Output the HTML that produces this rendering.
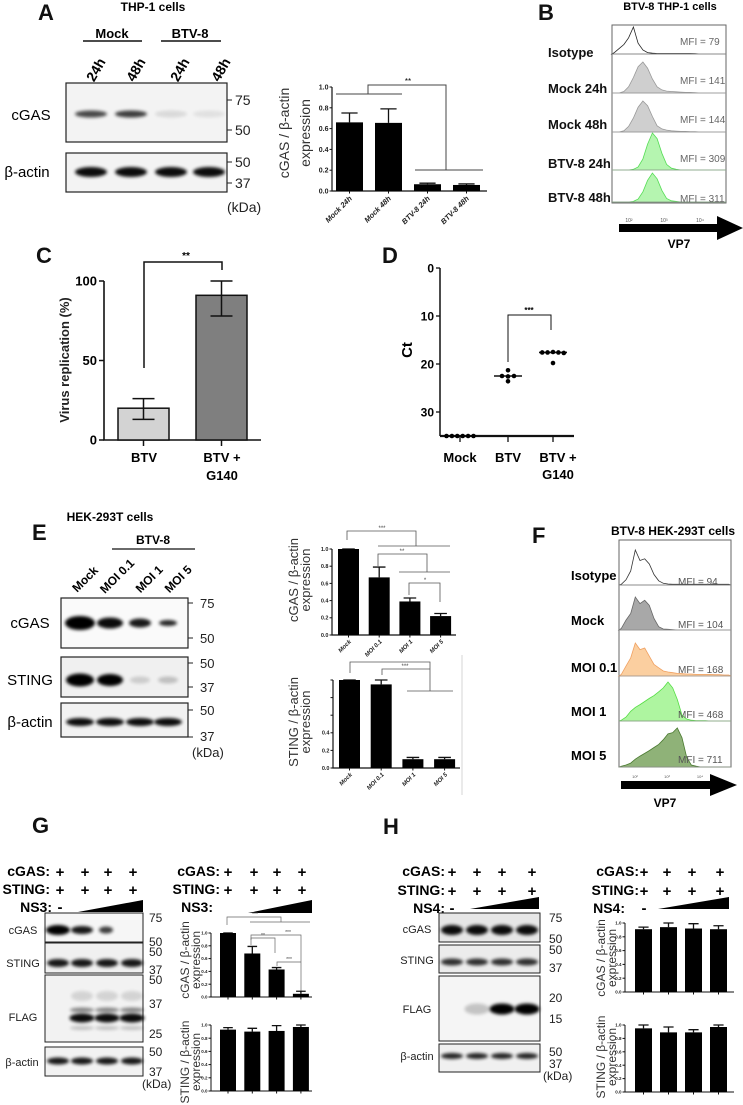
<!DOCTYPE html>
<html><head><meta charset="utf-8"><style>
html,body{margin:0;padding:0;background:#fff;}
svg{display:block;font-family:"Liberation Sans",sans-serif;}
</style></head><body>
<svg id="fig" width="743" height="1105" viewBox="0 0 743 1105" xmlns="http://www.w3.org/2000/svg">
<defs>
<filter id="blur" x="-30%" y="-80%" width="160%" height="260%"><feGaussianBlur stdDeviation="1.6"/></filter>
</defs>
<rect width="743" height="1105" fill="#fff"/>
<g font-weight="bold" font-size="22" fill="#111">
<text x="38" y="20">A</text>
<text x="538" y="20">B</text>
<text x="36" y="263">C</text>
<text x="382" y="263">D</text>
<text x="32" y="540">E</text>
<text x="532" y="543">F</text>
<text x="32" y="833">G</text>
<text x="383" y="834">H</text>
</g>
<g>
<text x="153" y="11" font-size="12" font-weight="bold" text-anchor="middle">THP-1 cells</text>
<text x="112" y="38" font-size="13" font-weight="bold" text-anchor="middle">Mock</text>
<line x1="83" y1="41" x2="142" y2="41" stroke="#111" stroke-width="1.5"/>
<text x="190" y="38" font-size="13" font-weight="bold" text-anchor="middle">BTV-8</text>
<line x1="161" y1="41" x2="221" y2="41" stroke="#111" stroke-width="1.5"/>
<g font-size="14" font-weight="bold" text-anchor="middle">
<text transform="translate(100,72) rotate(-60)">24h</text>
<text transform="translate(140,72) rotate(-60)">48h</text>
<text transform="translate(184,72) rotate(-60)">24h</text>
<text transform="translate(225,72) rotate(-60)">48h</text>
</g>
<rect x="66" y="83" width="161" height="59" fill="#f3f3f3" stroke="#222" stroke-width="1.2"/>
<rect x="66" y="153" width="161" height="39" fill="#f3f3f3" stroke="#222" stroke-width="1.2"/>
<text x="31" y="120" font-size="15" text-anchor="middle">cGAS</text>
<text x="27" y="177" font-size="15" text-anchor="middle">β-actin</text>
<g font-size="14" fill="#222">
<text x="235" y="105">75</text><text x="235" y="135">50</text><text x="235" y="167">50</text><text x="235" y="188">37</text><text x="227" y="212">(kDa)</text>
</g>
<g stroke="#222" stroke-width="1"><line x1="227" y1="100" x2="232" y2="100"/><line x1="227" y1="130" x2="232" y2="130"/><line x1="227" y1="162" x2="232" y2="162"/><line x1="227" y1="183" x2="232" y2="183"/></g>
<g id="aBands"></g>
</g>
<g fill="none" stroke="#444" stroke-width="1">
<polyline points="336,94 402,94"/><polyline points="368,94 368,85 446,85 446,170"/><polyline points="415,170 483,170"/>
</g>
<text x="408" y="84" font-size="8" text-anchor="middle">**</text>
<text transform="translate(289,133) rotate(-90)" font-size="14" fill="#333" text-anchor="middle">cGAS / β-actin</text>
<text transform="translate(310,133) rotate(-90)" font-size="14" fill="#333" text-anchor="middle">expression</text>
<g id="chartA"></g>
<g>
<text x="670" y="10" font-size="11" font-weight="bold" text-anchor="middle">BTV-8 THP-1 cells</text>
<rect x="612" y="25" width="114" height="178" fill="#fff" stroke="#666" stroke-width="1"/>
<g id="histB"></g>
<g font-size="13" font-weight="bold" fill="#111">
<text x="548" y="57">Isotype</text>
<text x="548" y="93">Mock 24h</text>
<text x="548" y="129">Mock 48h</text>
<text x="548" y="168">BTV-8 24h</text>
<text x="548" y="202">BTV-8 48h</text>
</g>
<g font-size="10" fill="#666">
<text x="680" y="45">MFI = 79</text><text x="680" y="84">MFI = 141</text><text x="680" y="123">MFI = 144</text><text x="680" y="162">MFI = 309</text><text x="680" y="202">MFI = 311</text>
</g>
<g font-size="5" fill="#555" text-anchor="middle"><text x="629" y="222">10²</text><text x="664" y="222">10³</text><text x="700" y="222">10⁴</text></g>
<rect x="619" y="224" width="100" height="8" fill="#000"/><polygon points="717,216 743,228 717,240" fill="#000"/>
<text x="679" y="248" font-size="12" font-weight="bold" text-anchor="middle">VP7</text>
</g>
<g>
<text transform="translate(69,360) rotate(-90)" font-size="13" font-weight="bold" fill="#222" text-anchor="middle">Virus replication (%)</text>
<polyline points="144,368 144,262 222,262 222,270" fill="none" stroke="#111" stroke-width="1.5"/>
<text x="186" y="259" font-size="10" font-weight="bold" text-anchor="middle">**</text>
<text x="144" y="462" font-size="13" font-weight="bold" text-anchor="middle">BTV</text>
<text x="222" y="462" font-size="13" font-weight="bold" text-anchor="middle">BTV +</text>
<text x="222" y="480" font-size="13" font-weight="bold" text-anchor="middle">G140</text>
<g id="chartC"></g>
</g>
<g>
<text transform="translate(412,350) rotate(-90)" font-size="15" font-weight="bold" text-anchor="middle">Ct</text>
<polyline points="508,362 508,315 551,315 551,330" fill="none" stroke="#111" stroke-width="1"/>
<text x="529" y="313" font-size="8" font-weight="bold" text-anchor="middle">***</text>
<text x="460" y="462" font-size="13" font-weight="bold" text-anchor="middle">Mock</text>
<text x="508" y="462" font-size="13" font-weight="bold" text-anchor="middle">BTV</text>
<text x="558" y="462" font-size="13" font-weight="bold" text-anchor="middle">BTV +</text>
<text x="558" y="479" font-size="13" font-weight="bold" text-anchor="middle">G140</text>
<g id="chartD"></g>
</g>
<g>
<text x="110" y="521" font-size="12" font-weight="bold" text-anchor="middle">HEK-293T cells</text>
<text x="153" y="544" font-size="12" font-weight="bold" text-anchor="middle">BTV-8</text>
<line x1="112" y1="549" x2="195" y2="549" stroke="#111" stroke-width="1.3"/>
<g font-size="12" font-weight="bold" text-anchor="middle">
<text transform="translate(88,582) rotate(-45)">Mock</text>
<text transform="translate(120,579) rotate(-45)">MOI 0.1</text>
<text transform="translate(152,582) rotate(-45)">MOI 1</text>
<text transform="translate(181,582) rotate(-45)">MOI 5</text>
</g>
<rect x="61" y="598" width="127" height="50" fill="#fafafa" stroke="#222" stroke-width="1.2"/>
<rect x="61" y="657" width="127" height="40" fill="#f0f0f0" stroke="#222" stroke-width="1.2"/>
<rect x="61" y="703" width="127" height="34" fill="#f2f2f2" stroke="#222" stroke-width="1.2"/>
<g font-size="15" text-anchor="middle"><text x="30" y="628">cGAS</text><text x="30" y="685">STING</text><text x="30" y="727">β-actin</text></g>
<g font-size="13" fill="#222"><text x="200" y="608">75</text><text x="200" y="643">50</text><text x="200" y="668">50</text><text x="200" y="692">37</text><text x="200" y="715">50</text><text x="200" y="741">37</text><text x="192" y="757">(kDa)</text></g>
<g stroke="#222"><line x1="188" y1="603" x2="193" y2="603"/><line x1="188" y1="638" x2="193" y2="638"/><line x1="188" y1="663" x2="193" y2="663"/><line x1="188" y1="687" x2="193" y2="687"/><line x1="188" y1="710" x2="193" y2="710"/><line x1="188" y1="737" x2="193" y2="737"/></g>
<g id="eBands"></g>
</g>
<g fill="none" stroke="#555" stroke-width="0.8">
<polyline points="347,540 347,531 416,531 416,546"/><line x1="378" y1="546" x2="450" y2="546"/>
<polyline points="378,566 378,554 427,554 427,572"/><line x1="399" y1="572" x2="450" y2="572"/>
<polyline points="409,595 409,583 440,583 440,602"/>
<polyline points="350,673 350,662 430,662 430,691"/><polyline points="382,675 382,669 430,669"/><line x1="407" y1="691" x2="453" y2="691"/>
<line x1="462" y1="655" x2="462" y2="795" stroke="#ccc"/>
</g>
<g font-size="6" text-anchor="middle" fill="#444"><text x="382" y="530">***</text><text x="402" y="553">**</text><text x="425" y="582">*</text><text x="405" y="668">***</text></g>
<text transform="translate(298,580) rotate(-90)" font-size="13" fill="#333" text-anchor="middle">cGAS / β-actin</text>
<text transform="translate(310,580) rotate(-90)" font-size="13" fill="#333" text-anchor="middle">expression</text>
<text transform="translate(298,722) rotate(-90)" font-size="13" fill="#333" text-anchor="middle">STING / β-actin</text>
<text transform="translate(310,722) rotate(-90)" font-size="13" fill="#333" text-anchor="middle">expression</text>
<g id="chartE1"></g><g id="chartE2"></g>
<g>
<text x="673" y="535" font-size="12" font-weight="bold" text-anchor="middle">BTV-8 HEK-293T cells</text>
<rect x="619" y="540" width="112" height="227" fill="#fff" stroke="#666" stroke-width="1"/>
<g id="histF"></g>
<g font-size="13" font-weight="bold"><text x="571" y="580">Isotype</text><text x="571" y="625">Mock</text><text x="571" y="672">MOI 0.1</text><text x="571" y="716">MOI 1</text><text x="571" y="760">MOI 5</text></g>
<g font-size="10" fill="#555"><text x="678" y="585">MFI = 94</text><text x="678" y="628">MFI = 104</text><text x="678" y="673">MFI = 168</text><text x="678" y="718">MFI = 468</text><text x="678" y="763">MFI = 711</text></g>
<g font-size="4" fill="#555" text-anchor="middle"><text x="635" y="778">10²</text><text x="667" y="778">10³</text><text x="700" y="778">10⁴</text></g>
<rect x="621" y="781" width="91" height="8" fill="#000"/><polygon points="710,774 737,785 710,796" fill="#000"/>
<text x="665" y="807" font-size="12" font-weight="bold" text-anchor="middle">VP7</text>
</g>
<g>
<g font-size="14" font-weight="bold" text-anchor="end"><text x="50" y="876">cGAS:</text><text x="50" y="894">STING:</text><text x="52" y="912">NS3:</text>
<text x="220" y="876">cGAS:</text><text x="220" y="894">STING:</text><text x="213" y="912">NS3:</text></g>
<g font-size="15" font-weight="bold" text-anchor="middle">
<text x="60" y="877">+</text><text x="85" y="877">+</text><text x="108" y="877">+</text><text x="133" y="877">+</text>
<text x="60" y="895">+</text><text x="85" y="895">+</text><text x="108" y="895">+</text><text x="133" y="895">+</text><text x="60" y="912">-</text>
<text x="228" y="877">+</text><text x="254" y="877">+</text><text x="277" y="877">+</text><text x="302" y="877">+</text>
<text x="228" y="895">+</text><text x="254" y="895">+</text><text x="277" y="895">+</text><text x="302" y="895">+</text>
</g>
<polygon points="78,912 143,900 143,912" fill="#000"/><polygon points="248,913 312,900 312,913" fill="#000"/>
<rect x="45" y="913" width="98" height="29" fill="#f6f6f6" stroke="#222"/>
<rect x="45" y="943" width="98" height="30" fill="#f0f0f0" stroke="#222"/>
<rect x="45" y="975" width="98" height="67" fill="#f2f2f2" stroke="#222"/>
<rect x="45" y="1047" width="98" height="29" fill="#f2f2f2" stroke="#222"/>
<g font-size="11" text-anchor="middle" fill="#222"><text x="23" y="934">cGAS</text><text x="23" y="967">STING</text><text x="23" y="1021">FLAG</text><text x="22" y="1066">β-actin</text></g>
<g font-size="12" fill="#222"><text x="149" y="922">75</text><text x="149" y="946">50</text><text x="149" y="956">50</text><text x="149" y="974">37</text><text x="149" y="984">50</text><text x="149" y="1008">37</text><text x="149" y="1038">25</text><text x="149" y="1056">50</text><text x="149" y="1076">37</text><text x="142" y="1088">(kDa)</text></g>
<g id="gBands"></g>
<g fill="none" stroke="#666" stroke-width="0.7"><polyline points="227,925 227,917 281,917 281,922"/><line x1="250" y1="922" x2="310" y2="922"/>
<polyline points="251,945 251,938 275,938 275,953"/><polyline points="251,940 251,935 301,935 301,995"/><polyline points="277,966 277,962 301,962"/></g>
<g font-size="5" text-anchor="middle" fill="#444"><text x="255" y="916">***</text><text x="263" y="937">**</text><text x="288" y="934">***</text><text x="289" y="961">***</text></g>
<text transform="translate(189,960) rotate(-90)" font-size="12" fill="#333" text-anchor="middle">cGAS / β-actin</text>
<text transform="translate(200,960) rotate(-90)" font-size="12" fill="#333" text-anchor="middle">expression</text>
<text transform="translate(189,1062) rotate(-90)" font-size="12" fill="#333" text-anchor="middle">STING / β-actin</text>
<text transform="translate(200,1062) rotate(-90)" font-size="12" fill="#333" text-anchor="middle">expression</text>
</g>
<g id="chartG1"></g><g id="chartG2"></g>
<g>
<g font-size="14" font-weight="bold" text-anchor="end"><text x="445" y="876">cGAS:</text><text x="445" y="895">STING:</text><text x="445" y="913">NS4:</text>
<text x="639" y="876">cGAS:</text><text x="639" y="895">STING:</text><text x="625" y="913">NS4:</text></g>
<g font-size="15" font-weight="bold" text-anchor="middle">
<text x="452" y="877">+</text><text x="477" y="877">+</text><text x="502" y="877">+</text><text x="532" y="877">+</text>
<text x="452" y="896">+</text><text x="477" y="896">+</text><text x="502" y="896">+</text><text x="532" y="896">+</text><text x="452" y="913">-</text>
<text x="644" y="877">+</text><text x="667" y="877">+</text><text x="692" y="877">+</text><text x="720" y="877">+</text>
<text x="644" y="896">+</text><text x="667" y="896">+</text><text x="692" y="896">+</text><text x="720" y="896">+</text><text x="644" y="913">-</text>
</g>
<polygon points="470,909 539,897 539,909" fill="#000"/><polygon points="658,909 729,897 729,909" fill="#000"/>
<rect x="439" y="913" width="101" height="29" fill="#e6e6e6" stroke="#222"/>
<rect x="439" y="945" width="101" height="28" fill="#ececec" stroke="#222"/>
<rect x="439" y="976" width="101" height="65" fill="#f5f5f5" stroke="#222"/>
<rect x="439" y="1044" width="101" height="28" fill="#f0f0f0" stroke="#222"/>
<g font-size="11" text-anchor="middle" fill="#222"><text x="417" y="933">cGAS</text><text x="417" y="964">STING</text><text x="417" y="1013">FLAG</text><text x="417" y="1060">β-actin</text></g>
<g font-size="12" fill="#222"><text x="549" y="922">75</text><text x="549" y="943">50</text><text x="549" y="954">50</text><text x="549" y="972">37</text><text x="549" y="1002">20</text><text x="549" y="1023">15</text><text x="549" y="1056">50</text><text x="549" y="1068">37</text><text x="543" y="1080">(kDa)</text></g>
<g id="hBands"></g>
<text transform="translate(605,958) rotate(-90)" font-size="12" fill="#333" text-anchor="middle">cGAS / β-actin</text>
<text transform="translate(616,958) rotate(-90)" font-size="12" fill="#333" text-anchor="middle">expression</text>
<text transform="translate(605,1057) rotate(-90)" font-size="12" fill="#333" text-anchor="middle">STING / β-actin</text>
<text transform="translate(616,1057) rotate(-90)" font-size="12" fill="#333" text-anchor="middle">expression</text>
</g>
<g id="chartH1"></g><g id="chartH2"></g>
</svg>
<script>
const aCategories = ["Mock 24h","Mock 48h","BTV-8 24h","BTV-8 48h"];
const aValues = [0.66, 0.655, 0.065, 0.058];
const aErrors = [0.75, 0.79, 0.075, 0.068];
const unitTicks = [0, 0.2, 0.4, 0.6, 0.8, 1.0];
const cCategories = ["BTV","BTV + G140"];
const cValues = [20, 91];
const cErrLow = [13, 78];
const cErrHigh = [26, 100];
const cTicks = [0, 50, 100];
const dTicks = [0, 10, 20, 30];
const dMock = [35, 35, 35, 35, 35, 35];
const dBtv = [21.3, 23.6, 22.5, 22.6, 22.5];
const dG140 = [17.6, 17.6, 17.5, 17.6, 17.7, 19.8];
const eCategories = ["Mock","MOI 0.1","MOI 1","MOI 5"];
const eCgasValues = [1.0, 0.67, 0.39, 0.22];
const eCgasErrors = [1.0, 0.79, 0.43, 0.25];
const eStingValues = [1.0, 0.95, 0.10, 0.10];
const eStingErrors = [1.0, 1.0, 0.12, 0.12];
const gCgasValues = [1.0, 0.68, 0.43, 0.05];
const gCgasErrors = [1.0, 0.79, 0.46, 0.09];
const gStingValues = [0.93, 0.90, 0.91, 0.97];
const gStingErrors = [0.96, 0.95, 0.99, 1.0];
const hCgasValues = [0.91, 0.94, 0.92, 0.91];
const hCgasErrors = [0.94, 1.0, 0.99, 0.96];
const hStingValues = [0.95, 0.89, 0.89, 0.97];
const hStingErrors = [1.0, 0.97, 0.93, 1.0];
const histBIso = [0.05,0.2,0.35,0.6,1.0,0.4,0.15,0.05,0.03,0.02,0.02,0.02,0.02,0.02,0.02,0.02,0.02,0.01,0,0,0,0,0,0];
const histBMock24 = [0,0,0.05,0.2,0.5,0.85,1.0,0.8,0.45,0.2,0.1,0.06,0.05,0.04,0.03,0.02,0.02,0.01,0,0,0,0,0,0];
const histBMock48 = [0,0,0.04,0.18,0.45,0.8,1.0,0.85,0.5,0.2,0.1,0.06,0.04,0.03,0.02,0.02,0.01,0.01,0,0,0,0,0,0];
const histBBtv24 = [0,0,0,0,0.02,0.08,0.3,0.7,1.0,0.85,0.45,0.15,0.05,0.02,0,0,0,0,0,0,0,0,0,0];
const histBBtv48 = [0,0,0,0,0.02,0.1,0.35,0.75,1.0,0.8,0.4,0.12,0.04,0.02,0,0,0,0,0,0,0,0,0,0];
const histFIso = [0.02,0.15,0.4,1.0,0.7,0.75,0.6,0.3,0.12,0.05,0.03,0.02,0.02,0.02,0.02,0.02,0.02,0.02,0.02,0.02,0.02,0.02,0.02,0.02];
const histFMock = [0.05,0.3,0.5,1.0,0.8,0.9,0.75,0.35,0.1,0.03,0.02,0.01,0,0,0,0,0,0,0,0,0,0,0,0];
const histFMoi01 = [0.05,0.3,0.55,1.0,0.8,0.85,0.6,0.35,0.25,0.15,0.12,0.1,0.08,0.07,0.06,0.06,0.05,0.05,0.05,0.05,0.04,0.04,0.03,0.03];
const histFMoi1 = [0.02,0.1,0.25,0.35,0.42,0.5,0.58,0.65,0.75,0.85,1.0,0.85,0.55,0.15,0.05,0.02,0.01,0.01,0.01,0,0,0,0,0];
const histFMoi5 = [0.02,0.05,0.1,0.2,0.28,0.35,0.42,0.5,0.58,0.7,0.85,0.88,1.0,0.75,0.25,0.05,0.02,0,0,0,0,0,0,0];

const NS = 'http://www.w3.org/2000/svg';
function mk(tag, attrs, parent){ const e = document.createElementNS(NS, tag); for (const k in attrs) e.setAttribute(k, attrs[k]); parent.appendChild(e); return e; }
function g(id){ return document.getElementById(id); }

function barChart(parentId, cfg, values, errors, cats){
  const p = g(parentId);
  const y = v => cfg.y0 - v * (cfg.y0 - cfg.y1) / cfg.vmax;
  const axis = mk('path', {d:`M${cfg.ax},${y(cfg.vmax)}V${cfg.y0}H${cfg.xEnd}`, fill:'none', stroke:'#111', 'stroke-width':cfg.lw||1.2}, p);
  
  
  unitTicks.forEach(t => {
    mk('line', {x1:cfg.ax-2.5, x2:cfg.ax, y1:y(t), y2:y(t), stroke:'#111', 'stroke-width':1}, p);
    if (!cfg.hideTick || !cfg.hideTick(t)) {
      const lb = mk('text', {x:cfg.ax-3.5, y:y(t)+cfg.fs*0.35, 'font-size':cfg.fs, 'font-weight':'bold', 'text-anchor':'end', fill:'#222'}, p);
      lb.textContent = t.toFixed(1);
      
      
    }
  });
  values.forEach((v, i) => {
    const x = cfg.x0 + i * cfg.step, cx = x + cfg.w / 2;
    mk('line', {x1:cx, x2:cx, y1:cfg.y0, y2:cfg.y0+2.5, stroke:'#111'}, p);
    const eb = mk('path', {d:`M${cx},${y(v)}V${y(errors[i])}M${cx-cfg.w*0.3},${y(errors[i])}H${cx+cfg.w*0.3}`, stroke:'#111', 'stroke-width':1.3, fill:'none'}, p);
    
    
    const r = mk('rect', {x:x, y:y(v), width:cfg.w, height:cfg.y0 - y(v), fill:'#000'}, p);
    
    
    if (cats) {
      const t = mk('text', {transform:`translate(${cx+3},${cfg.y0+cfg.lblDy}) rotate(-45)`, 'font-size':cfg.lfs, 'font-weight':'bold', 'font-style':'italic', 'text-anchor':'end', fill:'#222'}, p);
      t.textContent = cats[i];
      
      
    }
  });
}
barChart('chartA', {ax:332, y0:191, y1:87, vmax:1, x0:336, step:39, w:27, xEnd:487, fs:7, lfs:7.5, lblDy:8}, aValues, aErrors, aCategories);
barChart('chartE1', {ax:332, y0:635, y1:549, vmax:1, x0:338, step:30.7, w:21, xEnd:456, fs:5.5, lfs:6, lblDy:7}, eCgasValues, eCgasErrors, eCategories);
barChart('chartE2', {ax:333, y0:768, y1:680, vmax:1, x0:339, step:31.7, w:21, xEnd:460, fs:5.5, lfs:6, lblDy:7, hideTick:t=>t>0.45}, eStingValues, eStingErrors, eCategories);
barChart('chartG1', {ax:211, y0:997, y1:933, vmax:1, x0:220, step:24.3, w:16, xEnd:312, fs:4.5, lw:1}, gCgasValues, gCgasErrors, null);
barChart('chartG2', {ax:211, y0:1091, y1:1025, vmax:1, x0:220, step:24.3, w:16, xEnd:312, fs:4.5, lw:1}, gStingValues, gStingErrors, null);
barChart('chartH1', {ax:625, y0:992, y1:923, vmax:1, x0:635, step:25, w:17, xEnd:734, fs:4.5, lw:1}, hCgasValues, hCgasErrors, null);
barChart('chartH2', {ax:625, y0:1092, y1:1025, vmax:1, x0:635, step:25, w:17, xEnd:734, fs:4.5, lw:1}, hStingValues, hStingErrors, null);

(function(){
  const p = g('chartC');
  const y0 = 440, y100 = 281, ax = 104;
  const y = v => y0 - v * (y0 - y100) / 100;
  const fills = ['#d3d3d3', '#7f7f7f'];
  mk('path', {d:`M${ax},${y(100)}V${y0}H261`, fill:'none', stroke:'#111', 'stroke-width':1.6}, p);
  cTicks.forEach(t => {
    mk('line', {x1:ax-5, x2:ax, y1:y(t), y2:y(t), stroke:'#111', 'stroke-width':1.5}, p);
    const lb = mk('text', {x:ax-7, y:y(t)+4.5, 'font-size':13, 'font-weight':'bold', 'text-anchor':'end'}, p);
    lb.textContent = t;
    
    
  });
  cValues.forEach((v, i) => {
    const x = 118 + i * 78, cx = x + 25.5;
    mk('line', {x1:cx, x2:cx, y1:y0, y2:y0+6, stroke:'#111', 'stroke-width':1.5}, p);
    const r = mk('rect', {x:x, y:y(v), width:51, height:y0 - y(v), fill:fills[i], stroke:'#111', 'stroke-width':1.5}, p);
    
    
    const eb = mk('path', {d:`M${cx},${y(cErrLow[i])}V${y(cErrHigh[i])}M${cx-11},${y(cErrLow[i])}H${cx+11}M${cx-11},${y(cErrHigh[i])}H${cx+11}`, stroke:'#111', 'stroke-width':1.5, fill:'none'}, p);
    
    
  });
})();

(function(){
  const p = g('chartD');
  const ax = 440, y = v => 268 + v * 4.8;
  mk('path', {d:`M${ax},${y(0)}V${y(35)}`, fill:'none', stroke:'#111', 'stroke-width':1.5}, p);
  mk('line', {x1:ax, x2:574, y1:y(35), y2:y(35), stroke:'#111', 'stroke-width':2.2}, p);
  dTicks.forEach(t => {
    mk('line', {x1:ax-4, x2:ax, y1:y(t), y2:y(t), stroke:'#111', 'stroke-width':1.3}, p);
    const lb = mk('text', {x:ax-6, y:y(t)+4.5, 'font-size':12, 'font-weight':'bold', 'text-anchor':'end'}, p);
    lb.textContent = t;
    
    
  });
  const groups = [[dMock, 460, 5.4], [dBtv, 508, 6], [dG140, 553, 5.4]];
  groups.forEach(([vals, cx, sp]) => {
    mk('line', {x1:cx, x2:cx, y1:y(35), y2:y(35)+6, stroke:'#111', 'stroke-width':1.3}, p);
    const sorted = vals.slice().sort((a,b)=>a-b);
    const med = sorted[Math.floor(sorted.length/2)];
    mk('line', {x1:cx-14, x2:cx+14, y1:y(med), y2:y(med), stroke:'#111', 'stroke-width':1.6}, p);
    const counts = {};
    vals.forEach(v => { const key = Math.round(v); counts[key] = (counts[key] || 0) + 1; });
    const seen = {};
    vals.forEach(v => {
      const key = Math.round(v);
      const n = counts[key]; const k = seen[key] = (seen[key] || 0) + 1;
      const x = cx + (k - 1 - (n - 1) / 2) * sp;
      const c = mk('circle', {cx:x, cy:y(v), r:2.3, fill:'#000'}, p);
      
      
    });
  });
})();

function hist(parentId, arr, x0, x1, base, H, fill, stroke){
  const p = g(parentId);
  const step = (x1 - x0) / arr.length;
  let d = `M${x0},${base}`;
  arr.forEach((v, i) => { d += `L${(x0 + (i + 0.5) * step).toFixed(1)},${(base - v * H).toFixed(1)}`; });
  d += `L${x1},${base}Z`;
  const h = mk('path', {d:d, fill:fill, stroke:stroke, 'stroke-width':0.8}, p);
  
  
  mk('line', {x1:x0, x2:x1, y1:base, y2:base, stroke:'#999', 'stroke-width':0.8}, p);
}
hist('histB', histBIso, 612, 726, 54, 27, 'none', '#222');
hist('histB', histBMock24, 612, 726, 93, 31, '#cfcfcf', '#999');
hist('histB', histBMock48, 612, 726, 132, 31, '#cfcfcf', '#999');
hist('histB', histBBtv24, 612, 726, 170, 37, '#b5f5b0', '#55dd55');
hist('histB', histBBtv48, 612, 726, 202, 29, '#b5f5b0', '#55dd55');
hist('histF', histFIso, 619, 731, 585, 35, 'none', '#333');
hist('histF', histFMock, 619, 731, 630, 33, '#a8a8a8', '#666');
hist('histF', histFMoi01, 619, 731, 676, 33, '#fbcfa0', '#f0a060');
hist('histF', histFMoi1, 619, 731, 721, 39, '#aef5a0', '#55dd44');
hist('histF', histFMoi5, 619, 731, 767, 39, '#8fb278', '#4a7a30');

function band(parentId, cx, cy, w, h, op){
  const e = mk('ellipse', {cx:cx, cy:cy, rx:w/2, ry:h/2, fill:'#000', opacity:op, filter:'url(#blur)'}, g(parentId));
  
  
}
[[91,.7],[131,.75],[171,.1],[209,.07]].forEach(([x,o]) => band('aBands', x, 114, 32, 7, o));
[91,131,171,209].forEach(x => band('aBands', x, 172, 32, 10, .95));
[[80,30,14,1],[110,26,11,.95],[140,22,9,.9],[168,18,6,.85]].forEach(([x,w,h,o]) => band('eBands', x, 623, w, h, o));
[[80,28,13,1],[110,26,12,1],[140,20,7,.15],[168,20,7,.2]].forEach(([x,w,h,o]) => band('eBands', x, 680, w, h, o));
[80,110,140,168].forEach(x => band('eBands', x, 722, 28, 8, .95));
[[58,24,10,1],[82,22,8,.9],[106,14,7,.75]].forEach(([x,w,h,o]) => band('gBands', x, 930, w, h, o));
[58,82,107,132].forEach(x => band('gBands', x, 963, 22, 8, .9));
[82,107,132].forEach(x => { band('gBands', x, 1018, 25, 9, .95); band('gBands', x, 1010, 24, 5, .45); band('gBands', x, 1028, 24, 4, .2); band('gBands', x, 996, 22, 10, .12); });
[58,82,107,132].forEach(x => band('gBands', x, 1061, 22, 7, .9));
[452,477,502,527].forEach(x => band('hBands', x, 930, 22, 10, .95));
[452,477,502,527].forEach(x => band('hBands', x, 962, 22, 7, .8));
[[477,.2],[502,1],[527,1]].forEach(([x,o]) => band('hBands', x, 1009, 25, 11, o));
[452,477,502,527].forEach(x => band('hBands', x, 1056, 22, 6, .85));
</script>
</body></html>
